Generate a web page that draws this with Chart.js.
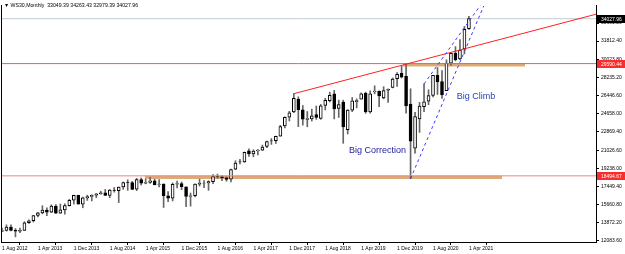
<!DOCTYPE html>
<html>
<head>
<meta charset="utf-8">
<script src="https://cdn.jsdelivr.net/npm/chart.js@4.4.1/dist/chart.umd.min.js"></script>
<style>
  html, body { margin: 0; padding: 0; background: #fff; }
  canvas { display: block; }
</style>
</head>
<body>
<canvas id="c" width="625" height="254"></canvas>
<script>
  // monthly candles, Aug 2012 .. Apr 2021
  const months = [
    'Aug 2012','Sep 2012','Oct 2012','Nov 2012','Dec 2012',
    'Jan 2013','Feb 2013','Mar 2013','Apr 2013','May 2013','Jun 2013','Jul 2013','Aug 2013','Sep 2013','Oct 2013','Nov 2013','Dec 2013',
    'Jan 2014','Feb 2014','Mar 2014','Apr 2014','May 2014','Jun 2014','Jul 2014','Aug 2014','Sep 2014','Oct 2014','Nov 2014','Dec 2014',
    'Jan 2015','Feb 2015','Mar 2015','Apr 2015','May 2015','Jun 2015','Jul 2015','Aug 2015','Sep 2015','Oct 2015','Nov 2015','Dec 2015',
    'Jan 2016','Feb 2016','Mar 2016','Apr 2016','May 2016','Jun 2016','Jul 2016','Aug 2016','Sep 2016','Oct 2016','Nov 2016','Dec 2016',
    'Jan 2017','Feb 2017','Mar 2017','Apr 2017','May 2017','Jun 2017','Jul 2017','Aug 2017','Sep 2017','Oct 2017','Nov 2017','Dec 2017',
    'Jan 2018','Feb 2018','Mar 2018','Apr 2018','May 2018','Jun 2018','Jul 2018','Aug 2018','Sep 2018','Oct 2018','Nov 2018','Dec 2018',
    'Jan 2019','Feb 2019','Mar 2019','Apr 2019','May 2019','Jun 2019','Jul 2019','Aug 2019','Sep 2019','Oct 2019','Nov 2019','Dec 2019',
    'Jan 2020','Feb 2020','Mar 2020','Apr 2020','May 2020','Jun 2020','Jul 2020','Aug 2020','Sep 2020','Oct 2020','Nov 2020','Dec 2020',
    'Jan 2021','Feb 2021','Mar 2021','Apr 2021'
  ];

  const opens = [
    13009,13092,13437,13099,13027,
    13104,13860,14054,14580,14840,15116,14911,15499,14813,15132,15544,16087,
    16573,15698,16321,16458,16581,16715,16828,16561,17097,17041,17390,17827,
    17823,17169,18134,17779,17842,18012,17639,17689,16528,16278,17672,17719,
    17405,16452,16546,17661,17783,17789,17924,18434,18393,18308,18162,19150,
    19873,19870,20957,20665,20962,21030,21392,21961,21982,22423,23442,24305,
    24809,26083,25024,24076,24117,24542,24161,25461,25917,26598,25151,25780,
    23058,24999,25819,26075,26640,24819,26818,26838,26198,26963,27229,28109,
    28639,28320,25591,21227,24120,25342,25879,26437,28439,27816,26925,29639,
    30627,30055,31065,33049.39
  ];
  const highs = [
    13331,13653,13662,13290,13345,
    13969,14150,14585,14888,15542,15341,15634,15659,15710,15722,16174,16588,
    16589,16398,16588,16631,16736,16978,17152,17154,17350,17395,17895,18103,
    17951,18244,18289,18175,18351,18168,18137,17712,16933,17800,17978,17888,
    17405,16795,17718,18168,18023,18017,18623,18668,18534,18399,19157,19987,
    20126,20851,21169,21070,21112,21535,21929,22179,22420,23485,24327,24876,
    26617,26307,25449,24858,25086,25403,25552,26167,26770,26952,25980,25980,
    25040,26242,26110,26696,26770,26907,27399,26894,27306,27099,28175,28702,
    29374,29569,27102,24764,25758,27581,27000,28431,29199,28902,29964,30637,
    31272,31961,33259,34263.43
  ];
  const lows = [
    12998,13036,13054,12471,12883,
    13104,13784,13937,14434,14741,14551,14859,14760,14777,14719,15507,15703,
    15699,15340,16067,16015,16334,16681,16546,16334,16882,15855,17166,17067,
    17136,17037,17585,17703,17735,17596,17399,15370,15942,16013,17311,17129,
    15451,15503,16410,17484,17331,17063,17713,18255,18029,17960,17884,19100,
    19677,19829,20413,20379,20554,20996,21279,21600,21709,22416,23242,23921,
    24741,23360,23509,23344,23908,24077,24084,25010,25796,24122,24268,21713,
    22638,24842,25208,26075,24680,24680,26602,25339,26103,25743,27188,27325,
    28170,24681,18214,20735,22790,24843,25524,26287,26538,26143,26925,29405,
    29857,29985,30548,32979.39
  ];
  const closes = [
    13091,13437,13096,13026,13104,
    13861,14054,14579,14840,15116,14910,15500,14810,15130,15546,16086,16577,
    15699,16322,16458,16581,16717,16827,16563,17098,17043,17391,17828,17823,
    17165,18133,17776,17841,18011,17620,17690,16528,16285,17664,17720,17425,
    16466,16517,17685,17774,17787,17930,18432,18401,18308,18142,19124,19763,
    19864,20812,20663,20941,21009,21350,21891,21948,22405,23377,24272,24719,
    26149,25029,24103,24163,24416,24271,25415,25965,26458,25116,25538,23327,
    24999,25916,25929,26593,24815,26600,26864,26403,26917,27046,28051,28538,
    28256,25409,21917,24346,25383,25813,26428,28430,27782,26502,29639,30606,
    29983,30932,32982,34027.96
  ];

  const xTickIdx = [0, 8, 16, 24, 32, 40, 48, 56, 64, 72, 80, 88, 96, 104];
  const yTicks = [12083.60, 13872.20, 15660.80, 17449.40, 19238.00, 21026.60, 22869.40,
                  24658.00, 26446.60, 28235.20, 30023.80, 31812.40, 33601.20];

  const title = '\u25BC WS30,Monthly  33049.39 34263.43 32979.39 34027.96';
  const bidPrice = 34027.96;
  const resistance = 29590.44;
  const support = 18494.67;

  // drawn objects, in month index / price units
  const trendLine = [[65, 26617], [132.3, 34471]];
  const climbLow = [[91, 18214], [107.3, 35286]];
  const climbHigh = [[94, 27581], [106.5, 35315]];
  const supportZone = { from: 31.8, to: 111.4, top: 18494.67, bottom: 18178 };
  const resistZone = { from: 89.3, to: 116.5, top: 29590.44, bottom: 29307 };
  const notes = [
    { text: 'Big Correction', x: 77.3, y: 20997, color: '#22229a' },
    { text: 'Big Climb', x: 101.3, y: 26343, color: '#2b44b0' }
  ];

  const X_MIN = -0.22, X_MAX = 132.3;
  const Y_MIN = 11957, Y_MAX = 35382;
  const FONT = "'Liberation Sans', Arial, sans-serif";

  const idx = months.map((m, i) => i);
  const seg = (pts) => pts.map(p => ({ x: p[0], y: p[1] }));
  const hline = (v) => [{ x: X_MIN, y: v }, { x: X_MAX, y: v }];

  const extras = {
    id: 'extras',
    afterDatasetsDraw(chart) {
      const c = chart.ctx, xs = chart.scales.x, ys = chart.scales.y;
      c.save();
      c.textBaseline = 'middle';
      c.textAlign = 'left';
      c.font = '9px ' + FONT;
      notes.forEach(n => {
        c.fillStyle = n.color;
        c.fillText(n.text, xs.getPixelForValue(n.x), ys.getPixelForValue(n.y));
      });
      c.restore();
    },
    afterDraw(chart) {
      const c = chart.ctx, a = chart.chartArea, ys = chart.scales.y;
      c.save();
      // frame on the left
      c.strokeStyle = '#000';
      c.lineWidth = 1;
      c.beginPath();
      c.moveTo(a.left + 0.5, a.top);
      c.lineTo(a.left + 0.5, a.bottom);
      c.stroke();
      // price tags on the axis
      const tags = [
        { v: bidPrice, bg: '#000' },
        { v: resistance, bg: '#ff2a2a' },
        { v: support, bg: '#ff2a2a' }
      ];
      c.font = '5px ' + FONT;
      c.textBaseline = 'middle';
      tags.forEach(t => {
        const y = Math.round(ys.getPixelForValue(t.v));
        c.fillStyle = t.bg;
        c.fillRect(a.right + 1, y - 4, 28, 8);
        c.fillStyle = '#fff';
        c.fillText(t.v.toFixed(2), a.right + 5, y + 0.5);
      });
      // header text
      c.fillStyle = '#000';
      c.font = '5.2px ' + FONT;
      c.fillText(title, 4, 6);
      c.restore();
    }
  };

  new Chart(document.getElementById('c'), {
    type: 'bar',
    data: {
      datasets: [
        {
          type: 'line', data: hline(bidPrice), borderColor: '#c3cad3', borderWidth: 1,
          pointRadius: 0, fill: false, order: 9
        },
        {
          type: 'line', data: seg([[supportZone.from, supportZone.top], [supportZone.to, supportZone.top]]),
          borderWidth: 0, pointRadius: 0, backgroundColor: '#d8ad76',
          fill: { value: supportZone.bottom }, order: 8
        },
        {
          type: 'line', data: seg([[resistZone.from, resistZone.top], [resistZone.to, resistZone.top]]),
          borderWidth: 0, pointRadius: 0, backgroundColor: '#d8ad76',
          fill: { value: resistZone.bottom }, order: 8
        },
        {
          type: 'bar', data: idx.map(i => ({ x: i, y: [lows[i], highs[i]] })),
          backgroundColor: '#666', barThickness: 1, grouped: false, order: 5
        },
        {
          type: 'bar', data: idx.map(i => ({ x: i, y: [opens[i], closes[i]] })),
          backgroundColor: idx.map(i => closes[i] >= opens[i] ? '#fff' : '#000'),
          borderColor: '#000', borderWidth: 1, borderSkipped: false,
          barThickness: 3, grouped: false, order: 4
        },
        {
          type: 'line', data: hline(resistance), borderColor: '#ff5555', borderWidth: 1,
          pointRadius: 0, fill: false, order: 2
        },
        {
          type: 'line', data: hline(support), borderColor: '#f77f7f', borderWidth: 1,
          pointRadius: 0, fill: false, order: 2
        },
        {
          type: 'line', data: seg(trendLine), borderColor: '#ff2020', borderWidth: 1,
          pointRadius: 0, fill: false, order: 1
        },
        {
          type: 'line', data: seg(climbLow), borderColor: '#3a3aff', borderWidth: 1,
          borderDash: [3, 3], pointRadius: 0, fill: false, order: 1
        },
        {
          type: 'line', data: seg(climbHigh), borderColor: '#3a3aff', borderWidth: 1,
          borderDash: [3, 3], pointRadius: 0, fill: false, order: 1
        }
      ]
    },
    options: {
      responsive: false,
      animation: false,
      layout: { padding: { left: 1, top: 1, right: 0, bottom: 0 } },
      plugins: { legend: { display: false }, tooltip: { enabled: false } },
      scales: {
        x: {
          type: 'linear', min: X_MIN, max: X_MAX, offset: false,
          grid: { drawOnChartArea: false, tickLength: 3, color: '#000' },
          border: { display: true, color: '#000' },
          ticks: {
            color: '#000', font: { size: 5, family: FONT }, align: 'start',
            padding: 1, maxRotation: 0, autoSkip: false,
            callback: (v) => '1 ' + months[v]
          },
          afterBuildTicks: (s) => { s.ticks = xTickIdx.map(v => ({ value: v })); },
          afterFit: (s) => { s.height = 12; }
        },
        y: {
          type: 'linear', position: 'right', min: Y_MIN, max: Y_MAX,
          grid: { drawOnChartArea: false, tickLength: 3, color: '#000' },
          border: { display: true, color: '#000' },
          ticks: {
            color: '#000', font: { size: 5, family: FONT }, padding: 2,
            callback: (v) => v.toFixed(2)
          },
          afterBuildTicks: (s) => { s.ticks = yTicks.map(v => ({ value: v })); },
          afterFit: (s) => { s.width = 29; }
        }
      }
    },
    plugins: [extras]
  });
</script>
</body>
</html>
